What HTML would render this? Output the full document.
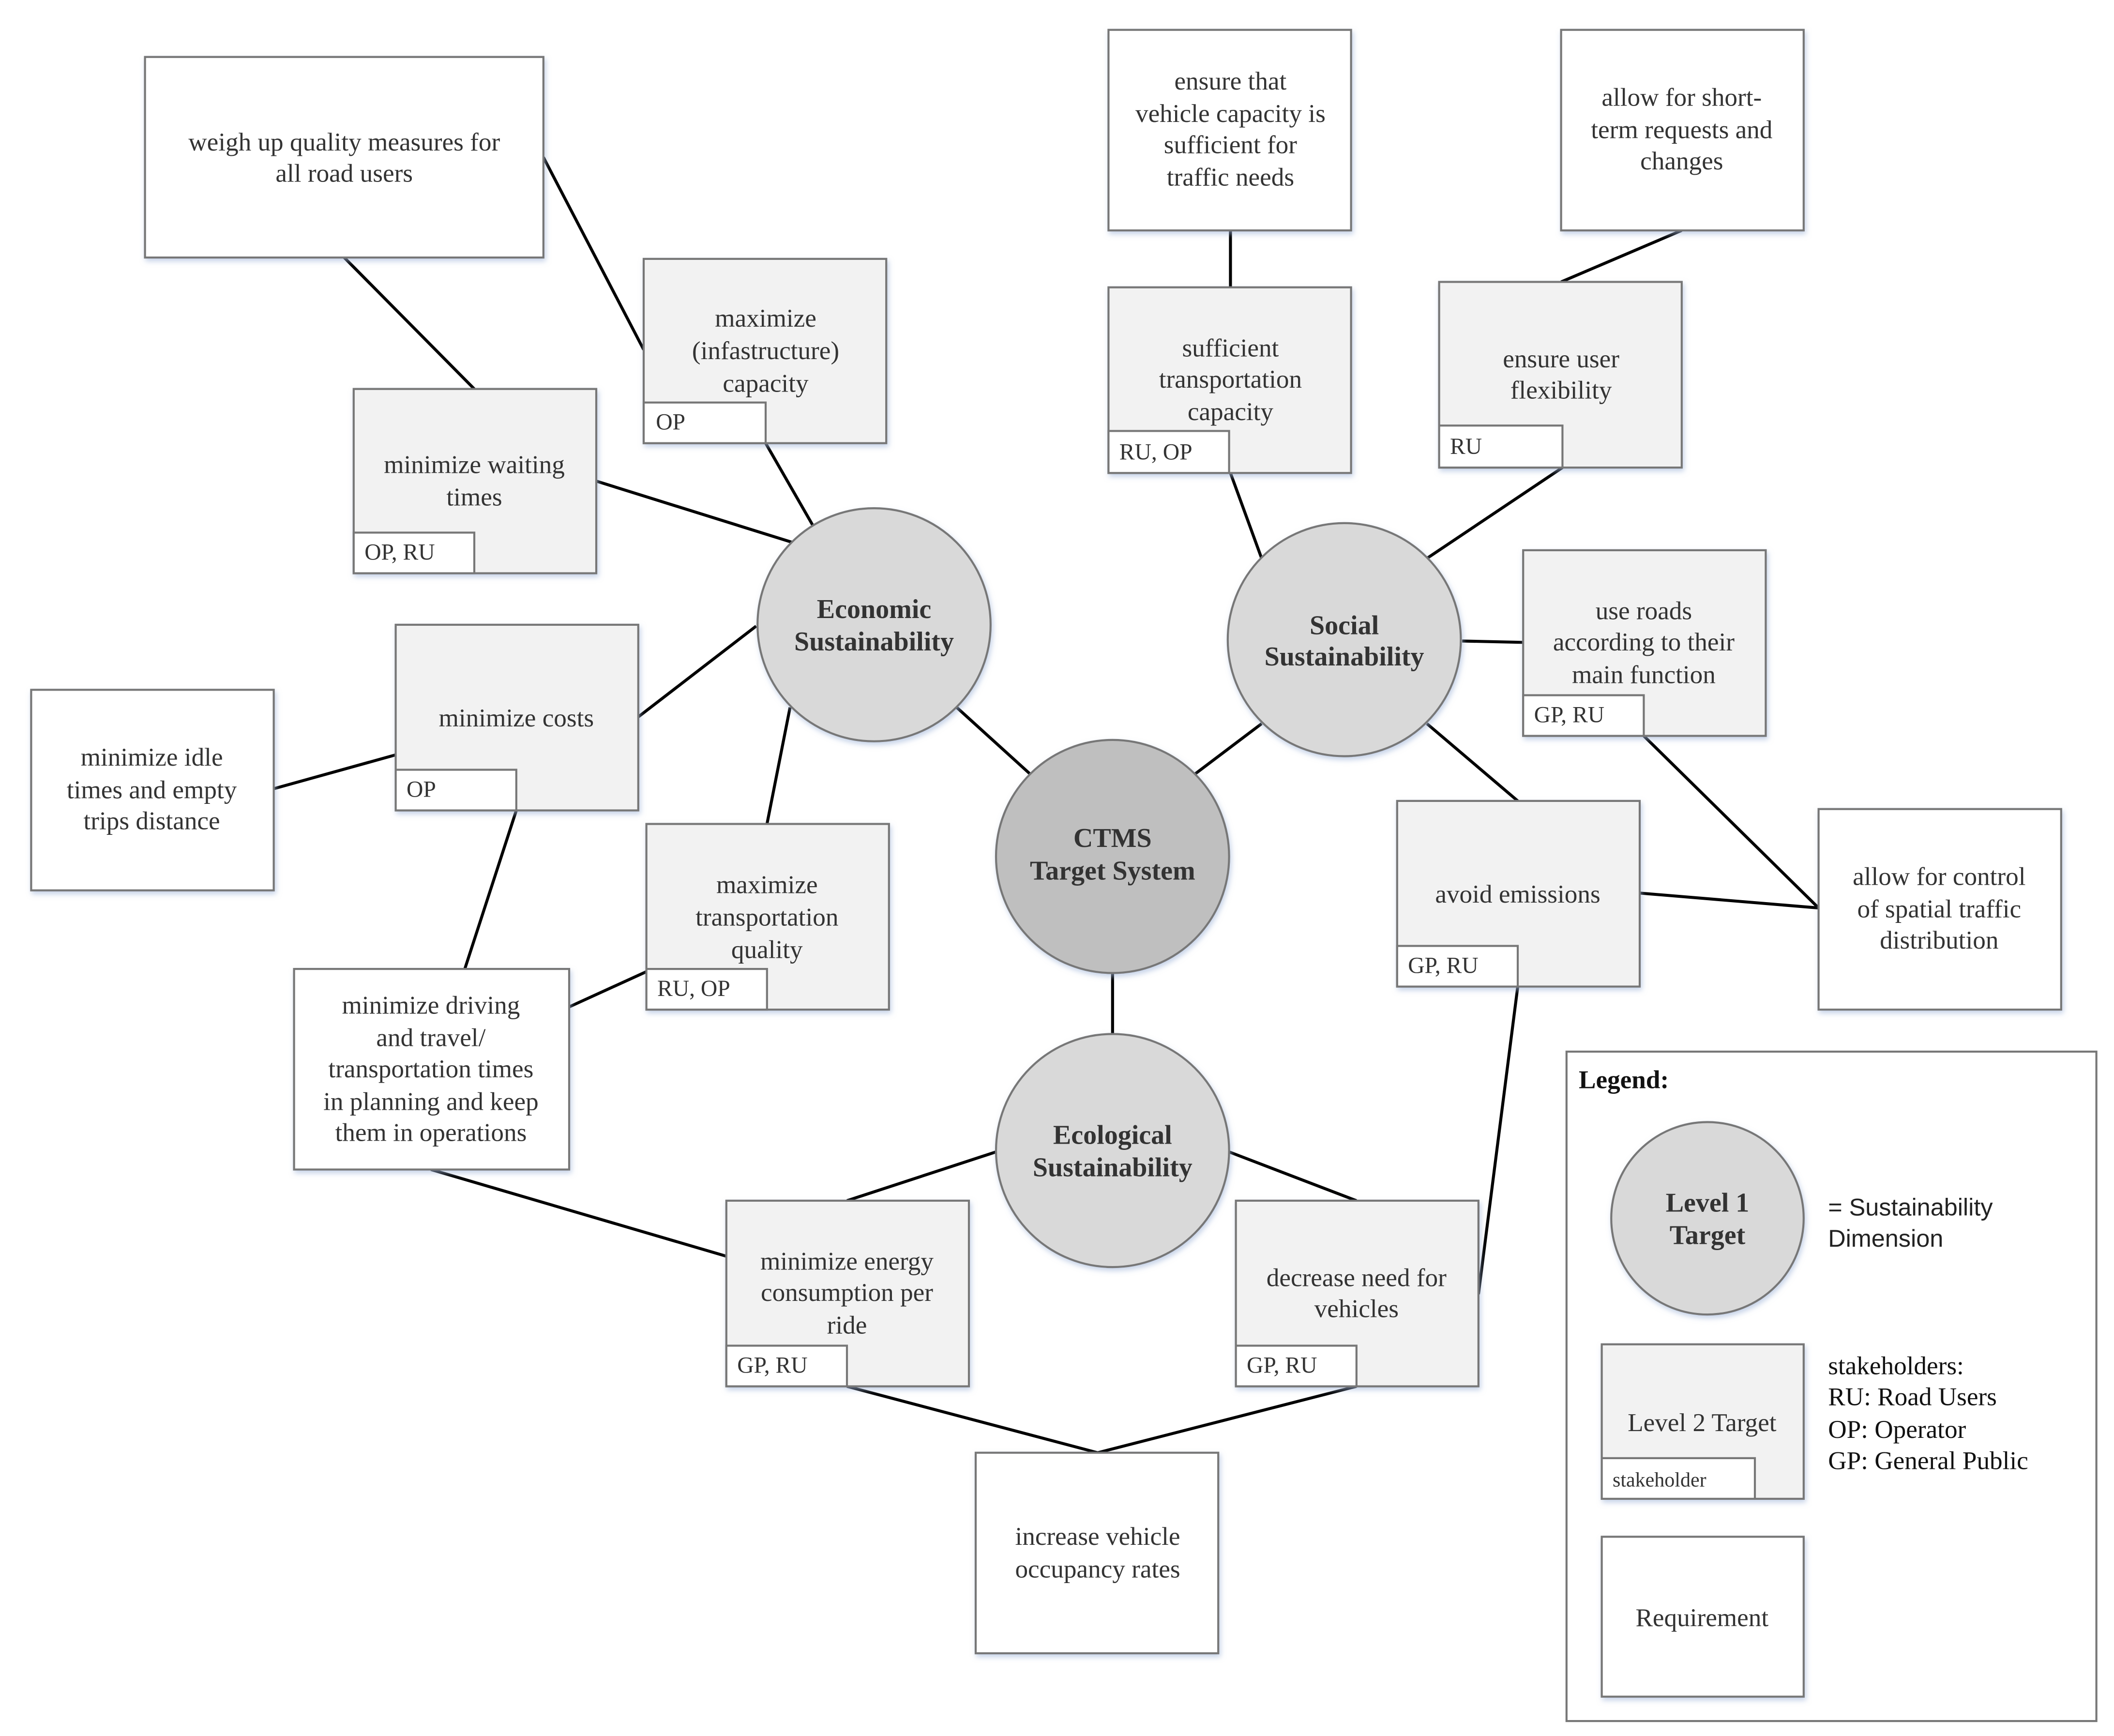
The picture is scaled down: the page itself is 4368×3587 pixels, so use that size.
<!DOCTYPE html>
<html><head><meta charset="utf-8"><style>html,body{margin:0;padding:0;background:#fff}svg{display:block}</style></head><body>
<svg xmlns="http://www.w3.org/2000/svg" width="4368" height="3587" viewBox="0 0 1560 1281">
<defs><filter id="sh" x="-20%" y="-20%" width="140%" height="140%"><feDropShadow dx="1" dy="2" stdDeviation="2" flood-color="#9fb4d9" flood-opacity="0.6"/></filter></defs>
<rect width="1560" height="1281" fill="#fff"/>
<g stroke="#000" stroke-width="2.2" fill="none">
<line x1="254" y1="190" x2="350" y2="287"/><line x1="401" y1="116" x2="475" y2="258"/>
<line x1="565" y1="327" x2="600" y2="388"/><line x1="440" y1="355" x2="584" y2="400"/>
<line x1="471" y1="529" x2="558" y2="462"/><line x1="292" y1="557" x2="202" y2="582"/>
<line x1="381" y1="598" x2="343" y2="715"/><line x1="566" y1="608" x2="583" y2="522"/>
<line x1="420" y1="743" x2="477" y2="717"/><line x1="706" y1="522" x2="760" y2="571"/>
<line x1="318" y1="863" x2="536" y2="927"/><line x1="931" y1="534" x2="882" y2="571"/>
<line x1="908" y1="349" x2="931" y2="412"/><line x1="908" y1="170" x2="908" y2="212"/>
<line x1="1241" y1="170" x2="1152" y2="208"/><line x1="1153" y1="345" x2="1053" y2="412"/>
<line x1="1079" y1="473" x2="1124" y2="474"/><line x1="1053" y1="534" x2="1120" y2="591"/>
<line x1="1213" y1="543" x2="1342" y2="670"/><line x1="1210" y1="659" x2="1342" y2="670"/>
<line x1="1120" y1="728" x2="1091" y2="955"/><line x1="821" y1="718" x2="821" y2="763"/>
<line x1="735" y1="850" x2="625" y2="886"/><line x1="907" y1="850" x2="1001" y2="886"/>
<line x1="625" y1="1023" x2="810" y2="1072"/><line x1="1001" y1="1023" x2="810" y2="1072"/>
</g>
<g stroke="#777" stroke-width="1.5" filter="url(#sh)">
<rect x="107" y="42" width="294" height="148" fill="#fff"/>
<rect x="23" y="509" width="179" height="148" fill="#fff"/>
<rect x="217" y="715" width="203" height="148" fill="#fff"/>
<rect x="818" y="22" width="179" height="148" fill="#fff"/>
<rect x="1152" y="22" width="179" height="148" fill="#fff"/>
<rect x="1342" y="597" width="179" height="148" fill="#fff"/>
<rect x="720" y="1072" width="179" height="148" fill="#fff"/>
<rect x="475" y="191" width="179" height="136" fill="#f2f2f2"/>
<rect x="261" y="287" width="179" height="136" fill="#f2f2f2"/>
<rect x="292" y="461" width="179" height="137" fill="#f2f2f2"/>
<rect x="477" y="608" width="179" height="137" fill="#f2f2f2"/>
<rect x="818" y="212" width="179" height="137" fill="#f2f2f2"/>
<rect x="1062" y="208" width="179" height="137" fill="#f2f2f2"/>
<rect x="1124" y="406" width="179" height="137" fill="#f2f2f2"/>
<rect x="1031" y="591" width="179" height="137" fill="#f2f2f2"/>
<rect x="536" y="886" width="179" height="137" fill="#f2f2f2"/>
<rect x="912" y="886" width="179" height="137" fill="#f2f2f2"/>
<circle cx="645" cy="461" r="86" fill="#d9d9d9"/>
<circle cx="992" cy="472" r="86" fill="#d9d9d9"/>
<circle cx="821" cy="632" r="86" fill="#bfbfbf"/>
<circle cx="821" cy="849" r="86" fill="#d9d9d9"/>
</g>
<g stroke="#777" stroke-width="1.5" fill="#fff">
<rect x="475" y="297" width="90" height="30"/><rect x="261" y="393" width="89" height="30"/>
<rect x="292" y="568" width="89" height="30"/><rect x="477" y="715" width="89" height="30"/>
<rect x="818" y="318" width="89" height="31"/><rect x="1062" y="314" width="91" height="31"/>
<rect x="1124" y="513" width="89" height="30"/><rect x="1031" y="698" width="89" height="30"/>
<rect x="536" y="993" width="89" height="30"/><rect x="912" y="993" width="89" height="30"/>
</g>
<rect x="1156" y="776" width="391" height="494" fill="#fff" stroke="#777" stroke-width="1.5"/>
<g stroke="#777" stroke-width="1.5" filter="url(#sh)">
<circle cx="1260" cy="899" r="71" fill="#d9d9d9"/>
<rect x="1182" y="992" width="149" height="114" fill="#f2f2f2"/>
<rect x="1182" y="1134" width="149" height="118" fill="#fff"/>
</g>
<rect x="1182" y="1076" width="113" height="30" fill="#fff" stroke="#777" stroke-width="1.5"/>
<g font-family="'Liberation Serif',serif" font-size="19" fill="#333" text-anchor="middle">
<text x="254" y="111">weigh up quality measures for</text><text x="254" y="134">all road users</text>
<text x="565" y="241">maximize</text><text x="565" y="265">(infastructure)</text><text x="565" y="289">capacity</text>
<text x="350" y="349">minimize waiting</text><text x="350" y="373">times</text>
<text x="381" y="536">minimize costs</text>
<text x="112" y="565">minimize idle</text><text x="112" y="589">times and empty</text><text x="112" y="612">trips distance</text>
<text x="566" y="659">maximize</text><text x="566" y="683">transportation</text><text x="566" y="707">quality</text>
<text x="318" y="748">minimize driving</text><text x="318" y="772">and travel/</text><text x="318" y="795">transportation times</text><text x="318" y="819">in planning and keep</text><text x="318" y="842">them in operations</text>
<text x="908" y="66">ensure that</text><text x="908" y="90">vehicle capacity is</text><text x="908" y="113">sufficient for</text><text x="908" y="137">traffic needs</text>
<text x="908" y="263">sufficient</text><text x="908" y="286">transportation</text><text x="908" y="310">capacity</text>
<text x="1241" y="78">allow for short-</text><text x="1241" y="102">term requests and</text><text x="1241" y="125">changes</text>
<text x="1152" y="271">ensure user</text><text x="1152" y="294">flexibility</text>
<text x="1213" y="457">use roads</text><text x="1213" y="480">according to their</text><text x="1213" y="504">main function</text>
<text x="1431" y="653">allow for control</text><text x="1431" y="677">of spatial traffic</text><text x="1431" y="700">distribution</text>
<text x="1120" y="666">avoid emissions</text>
<text x="625" y="937">minimize energy</text><text x="625" y="960">consumption per</text><text x="625" y="984">ride</text>
<text x="1001" y="949">decrease need for</text><text x="1001" y="972">vehicles</text>
<text x="810" y="1140">increase vehicle</text><text x="810" y="1164">occupancy rates</text>
<text x="1256" y="1056">Level 2 Target</text>
<text x="1256" y="1200">Requirement</text>
</g>
<g font-family="'Liberation Serif',serif" font-size="17" fill="#333">
<text x="484" y="317">OP</text><text x="269" y="413">OP, RU</text><text x="300" y="588">OP</text>
<text x="485" y="735">RU, OP</text><text x="826" y="339">RU, OP</text><text x="1070" y="335">RU</text>
<text x="1132" y="533">GP, RU</text><text x="1039" y="718">GP, RU</text><text x="544" y="1013">GP, RU</text>
<text x="920" y="1013">GP, RU</text><text x="1190" y="1097" font-size="15">stakeholder</text>
</g>
<g font-family="'Liberation Serif',serif" font-size="20" font-weight="bold" fill="#333" text-anchor="middle">
<text x="645" y="456">Economic</text><text x="645" y="480">Sustainability</text>
<text x="992" y="468">Social</text><text x="992" y="491">Sustainability</text>
<text x="821" y="625">CTMS</text><text x="821" y="649">Target System</text>
<text x="821" y="844">Ecological</text><text x="821" y="868">Sustainability</text>
<text x="1260" y="894">Level 1</text><text x="1260" y="918">Target</text>
</g>
<text x="1165" y="803" font-family="'Liberation Serif',serif" font-size="19" font-weight="bold" fill="#111">Legend:</text>
<g font-family="'Liberation Sans',sans-serif" font-size="18" fill="#222">
<text x="1349" y="897">= Sustainability</text><text x="1349" y="920">Dimension</text>
</g>
<g font-family="'Liberation Serif',serif" font-size="19" fill="#111">
<text x="1349" y="1014">stakeholders:</text><text x="1349" y="1037">RU: Road Users</text>
<text x="1349" y="1061">OP: Operator</text><text x="1349" y="1084">GP: General Public</text>
</g>
</svg>
</body></html>
